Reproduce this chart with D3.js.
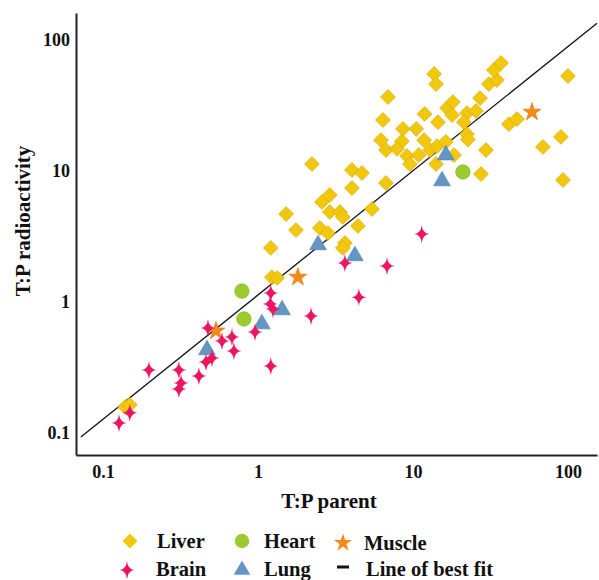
<!DOCTYPE html>
<html>
<head>
<meta charset="utf-8">
<script src="https://cdn.jsdelivr.net/npm/d3@7"></script>
<style>
  html, body { margin: 0; padding: 0; background: #fff; }
  svg { display: block; }
  text { font-family: "Liberation Serif", "Times New Roman", serif; font-weight: bold; fill: #111; }
</style>
</head>
<body>
<svg id="chart" width="599" height="580"></svg>
<script>
// ---------- data (T:P parent, T:P radioactivity) ----------
const liverX = [0.139,0.149,1.21,1.23,1.33,1.52,1.76,2.23,2.59,2.91,2.91,3.38,3.53,2.51,2.83,3.64,3.53,4.04,4.69,4.04,4.42,5.44,6.70,
  6.90,6.40,11.9,13.7,14.1,14.5,8.62,10.5,6.22,8.49,11.8,6.70,7.88,9.15,10.9,12.9,14.3,16.3,9.57,14.1,18.4,
  16.6,18.1,17.9,22.3,25.5,27.1,21.3,22.3,22.6,29.6,27.5,30.9,34.8,33.3,37.0,41.6,46.9,100,90.1,69.0,92.9];
const liverY = [0.155,0.161,2.54,1.52,1.50,4.61,3.48,11.1,5.70,6.44,4.78,4.78,4.38,3.61,3.30,2.77,2.54,10.0,9.49,7.29,3.74,5.04,7.96,
  36.1,24.1,26.8,54.1,45.3,23.2,20.6,20.6,16.9,16.6,16.9,14.2,14.5,12.8,13.0,14.2,15.2,16.4,11.1,11.1,13.0,
  29.7,33.0,26.3,27.2,28.2,35.4,23.2,18.8,17.1,14.2,9.32,45.3,48.6,58.0,65.6,22.4,24.5,52.2,17.9,15.0,8.39];

const brainX = [11.4,3.64,6.80,4.48,2.20,1.21,1.20,1.25,0.957,0.476,0.586,0.680,0.700,0.462,0.505,0.198,0.309,0.319,0.309,0.416,1.21,0.149,0.127];
const brainY = [3.25,1.95,1.85,1.07,0.768,1.15,0.949,0.869,0.580,0.622,0.495,0.531,0.415,0.342,0.367,0.297,0.297,0.237,0.213,0.268,0.319,0.140,0.117];

const heartX = [0.788,0.812,21.0];
const heartY = [1.19,0.729,9.66];

const lungX = [0.469,1.06,1.43,2.44,4.22,15.4,16.3];
const lungY = [0.423,0.667,0.854,2.68,2.21,8.24,13.0];

const muscleX = [0.536,1.81,58.6];
const muscleY = [0.590,1.52,27.7];

const fitX = [0.072, 154];
const fitY = [0.0916, 132];

const tickValues = [0.1, 1, 10, 100];
const tickLabels = ["0.1", "1", "10", "100"];
const xDomain = [0.067, 154];
const yDomain = [0.0667, 158];

const legendNames = ["Liver", "Heart", "Muscle", "Brain", "Lung", "Line of best fit"];

// ---------- styles ----------
const colors = { liver: "#F2C80F", brain: "#EE1560", heart: "#9BCB2E", lung: "#6396C4", muscle: "#F5891A" };

const svg = d3.select("#chart");
const margin = { left: 76, right: 2, top: 13, bottom: 125 };
const W = 599, H = 580;

const x = d3.scaleLog().domain(xDomain).range([margin.left, W - margin.right]);
const y = d3.scaleLog().domain(yDomain).range([H - margin.bottom, margin.top]);

// best-fit line
svg.append("path")
  .datum(fitX.map((v, i) => [v, fitY[i]]))
  .attr("d", d3.line().x(d => x(d[0])).y(d => y(d[1])))
  .attr("fill", "none").attr("stroke", "#111").attr("stroke-width", 1.3);

// symbol generators
const diamond = d3.symbol().type(d3.symbolSquare).size(110)();
const circle = d3.symbol().type(d3.symbolCircle).size(165)();
const triangle = d3.symbol().type(d3.symbolTriangle).size(120)();
const star5 = d3.symbol().type(d3.symbolStar).size(100)();
function sparkle(rx, ry, r) {
  return `M0,${-ry} Q${r*0.35},${-r*0.35} ${rx},0 Q${r*0.35},${r*0.35} 0,${ry} Q${-r*0.35},${r*0.35} ${-rx},0 Q${-r*0.35},${-r*0.35} 0,${-ry} Z`;
}
const star4 = sparkle(7.5, 9, 2.2);

function drawSeries(xs, ys, path, fill, stroke, rotate) {
  svg.append("g").selectAll("path")
    .data(xs.map((v, i) => [v, ys[i]]))
    .join("path")
    .attr("d", path)
    .attr("transform", d => `translate(${x(d[0])},${y(d[1])})` + (rotate ? ` rotate(${rotate})` : ""))
    .attr("fill", fill)
    .attr("stroke", stroke)
    .attr("stroke-width", 0.7);
}

drawSeries(liverX, liverY, diamond, colors.liver, "#D9AE08", 45);
drawSeries(heartX, heartY, circle, colors.heart, "#8BBB25", 0);
drawSeries(lungX, lungY, triangle, colors.lung, "#5685B2", 0);
drawSeries(muscleX, muscleY, star5, colors.muscle, "#E27A10", 0);
drawSeries(brainX, brainY, star4, colors.brain, "none", 0);

// axes
const xAxis = d3.axisBottom(x).tickValues(tickValues).tickFormat((d, i) => tickLabels[i]).tickSize(0).tickPadding(10);
const yAxis = d3.axisLeft(y).tickValues(tickValues).tickFormat((d, i) => tickLabels[i]).tickSize(0).tickPadding(6);

const gx = svg.append("g").attr("transform", `translate(0,${H - margin.bottom})`).call(xAxis);
const gy = svg.append("g").attr("transform", `translate(${margin.left},0)`).call(yAxis);
[gx, gy].forEach(g => {
  g.select(".domain").attr("stroke", "#222").attr("stroke-width", 2);
  g.selectAll("text").attr("font-size", 18).attr("font-family", "Liberation Serif, serif").attr("font-weight", "bold").attr("fill", "#111");
});
gy.selectAll("text").attr("dy", "0.35em");

// axis titles
svg.append("text").attr("x", 329).attr("y", 508).attr("text-anchor", "middle").attr("font-size", 21).text("T:P parent");
svg.append("text").attr("transform", "translate(30,221) rotate(-90)").attr("text-anchor", "middle").attr("font-size", 21).text("T:P radioactivity");

// legend
const legendItems = [
  { name: legendNames[0], sx: 130, sy: 541, path: diamond, fill: colors.liver, rot: 45, tx: 157, ty: 548 },
  { name: legendNames[1], sx: 242, sy: 541, path: circle, fill: colors.heart, rot: 0, tx: 264, ty: 548 },
  { name: legendNames[2], sx: 343, sy: 543, path: star5, fill: colors.muscle, rot: 0, tx: 364, ty: 550 },
  { name: legendNames[3], sx: 127, sy: 570, path: star4, fill: colors.brain, rot: 0, tx: 156, ty: 576 },
  { name: legendNames[4], sx: 242, sy: 570, path: triangle, fill: colors.lung, rot: 0, tx: 264, ty: 576 },
  { name: legendNames[5], sx: 343, sy: 567, path: null, fill: "#111", rot: 0, tx: 366, ty: 576 }
];
const lg = svg.append("g");
legendItems.forEach(it => {
  if (it.path) {
    lg.append("path").attr("d", it.path).attr("fill", it.fill)
      .attr("transform", `translate(${it.sx},${it.sy})` + (it.rot ? ` rotate(${it.rot})` : ""));
  } else {
    lg.append("line").attr("x1", it.sx - 6).attr("x2", it.sx + 6).attr("y1", it.sy).attr("y2", it.sy)
      .attr("stroke", it.fill).attr("stroke-width", 3);
  }
  lg.append("text").attr("x", it.tx).attr("y", it.ty).attr("font-size", 20.5).text(it.name);
});
</script>
</body>
</html>
